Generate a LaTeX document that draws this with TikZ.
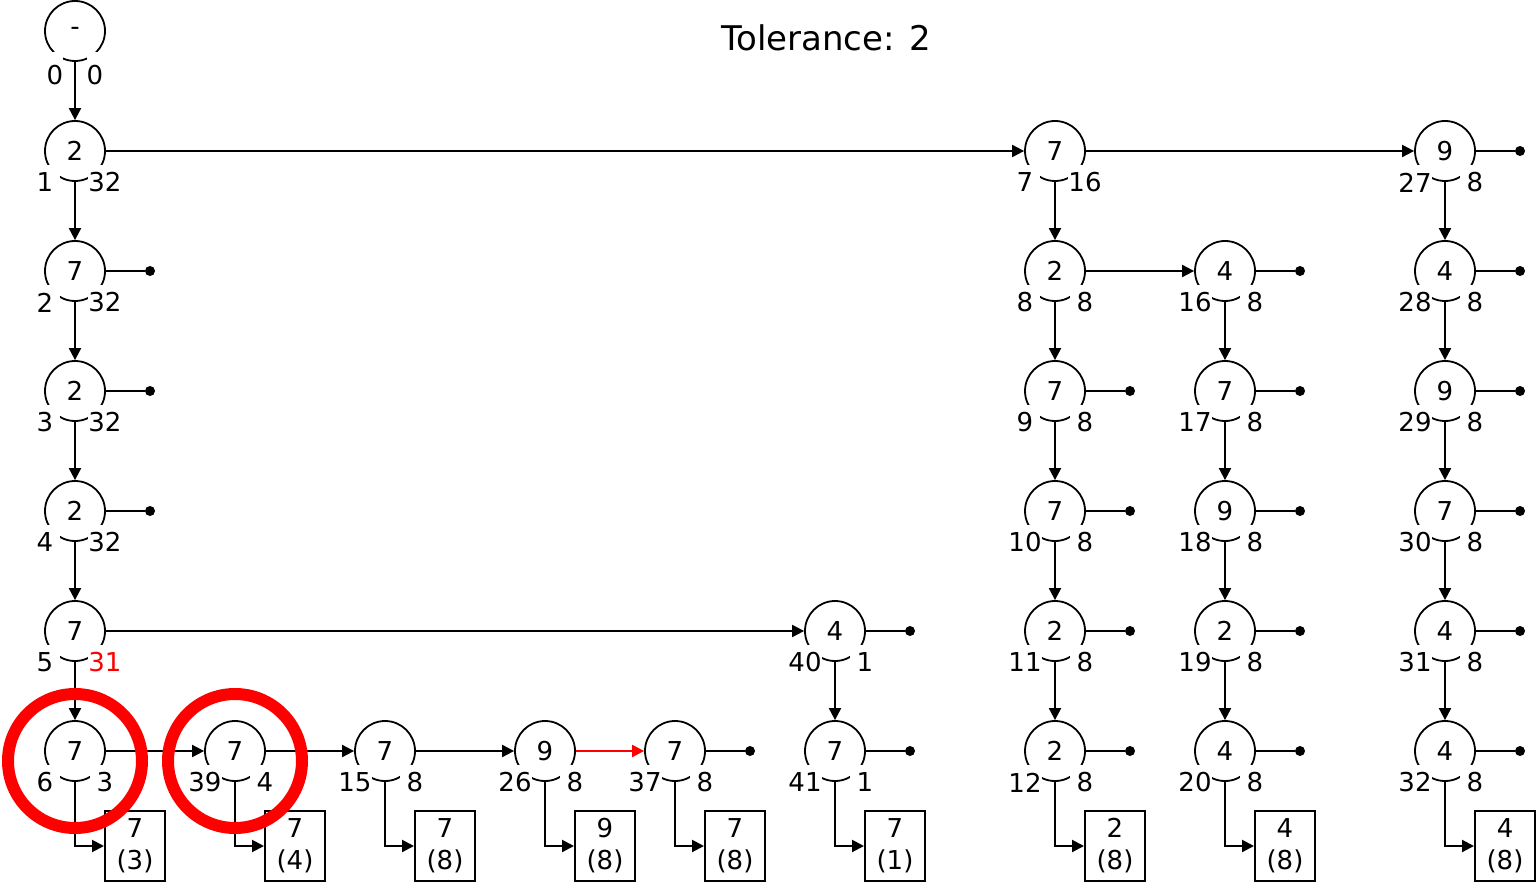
\documentclass[tikz,border=0pt]{standalone}
\usepackage{fontspec}
\setmainfont{DejaVu Sans}
\usetikzlibrary{arrows.meta}

% state circle with its two counters below it
\newcommand\stnode[7][]{%
  \node[st] (#2) at (#3,#4) {#5};
  \node[lab] (#2l) at (#3-30,#4+31.5) {#6};
  \node[lab,#1] (#2r) at (#3+30,#4+31.5) {#7};
}
% open end of a state
\newcommand\stub[3]{%
  \node[dot] (#1d) at (#2+75,#3) {};
  \draw[plain] (#1) -- (#1d);
}
% result box hanging off a state
\newcommand\result[4]{%
  \node[res] (#1b) at (#2+60,846) {#3\\(#4)};
  \draw[link] (#1.south) |- (#1b.west);
}

\begin{document}
\begin{tikzpicture}[x=1pt,y=-1pt,
  every node/.style={font=\fontsize{26}{30}\selectfont},
  st/.style={circle,draw,line width=1.8pt,minimum size=60pt,inner sep=0pt},
  lab/.style={fill=white,inner sep=0pt,minimum width=30pt,minimum height=35pt},
  labtop/.style={fill=white,inner sep=0pt,minimum width=14pt,minimum height=46pt},
  res/.style={draw,line width=2pt,minimum width=60pt,minimum height=70pt,
    inner sep=0pt,align=center,font=\fontsize{26}{32}\selectfont},
  link/.style={line width=2pt,-{Triangle[length=12pt,width=12pt]}},
  hot/.style={link,draw=red},
  plain/.style={line width=2pt},
  dot/.style={circle,fill,inner sep=0pt,minimum size=10pt},
  ring/.style={circle,draw=red,line width=12pt,minimum size=134pt,inner sep=0pt}]
\useasboundingbox (0,0) rectangle (1536,882);

\node (title) at (826,38) {\fontsize{34}{40}\selectfont Tolerance: 2};

% root
\node[st] (n0) at (75,31) {-};
\node[labtop] (n0l) at (55,75) {0};
\node[labtop] (n0r) at (95,75) {0};

% first column
\stnode{n1}{75}{151}{2}{1}{32}
\stnode{n2}{75}{271}{7}{2}{32}
\stnode{n3}{75}{391}{2}{3}{32}
\stnode{n4}{75}{511}{2}{4}{32}
\stnode[text=red]{n5}{75}{631}{7}{5}{31}
\stnode{n6}{75}{751}{7}{6}{3}

% bottom row
\stnode{n39}{235}{751}{7}{39}{4}
\stnode{n15}{385}{751}{7}{15}{8}
\stnode{n26}{545}{751}{9}{26}{8}
\stnode{n37}{675}{751}{7}{37}{8}
\stnode{n40}{835}{631}{4}{40}{1}
\stnode{n41}{835}{751}{7}{41}{1}

% column of 7
\stnode{m7}{1055}{151}{7}{7}{16}
\stnode{m8}{1055}{271}{2}{8}{8}
\stnode{m9}{1055}{391}{7}{9}{8}
\stnode{m10}{1055}{511}{7}{10}{8}
\stnode{m11}{1055}{631}{2}{11}{8}
\stnode{m12}{1055}{751}{2}{12}{8}

% column of 4
\stnode{k16}{1225}{271}{4}{16}{8}
\stnode{k17}{1225}{391}{7}{17}{8}
\stnode{k18}{1225}{511}{9}{18}{8}
\stnode{k19}{1225}{631}{2}{19}{8}
\stnode{k20}{1225}{751}{4}{20}{8}

% column of 9
\stnode{p27}{1445}{151}{9}{27}{8}
\stnode{p28}{1445}{271}{4}{28}{8}
\stnode{p29}{1445}{391}{9}{29}{8}
\stnode{p30}{1445}{511}{7}{30}{8}
\stnode{p31}{1445}{631}{4}{31}{8}
\stnode{p32}{1445}{751}{4}{32}{8}

% transitions
\draw[link] (n0) -- (n1);
\draw[link] (n1) -- (n2);
\draw[link] (n2) -- (n3);
\draw[link] (n3) -- (n4);
\draw[link] (n4) -- (n5);
\draw[link] (n5) -- (n6);
\draw[link] (n1) -- (m7);
\draw[link] (m7) -- (p27);
\draw[link] (n5) -- (n40);
\draw[link] (n40) -- (n41);
\draw[link] (n6) -- (n39);
\draw[link] (n39) -- (n15);
\draw[link] (n15) -- (n26);
\draw[hot] (n26) -- (n37);
\draw[link] (m7) -- (m8);
\draw[link] (m8) -- (k16);
\draw[link] (m8) -- (m9);
\draw[link] (m9) -- (m10);
\draw[link] (m10) -- (m11);
\draw[link] (m11) -- (m12);
\draw[link] (k16) -- (k17);
\draw[link] (k17) -- (k18);
\draw[link] (k18) -- (k19);
\draw[link] (k19) -- (k20);
\draw[link] (p27) -- (p28);
\draw[link] (p28) -- (p29);
\draw[link] (p29) -- (p30);
\draw[link] (p30) -- (p31);
\draw[link] (p31) -- (p32);

% open ends
\stub{n2}{75}{271}
\stub{n3}{75}{391}
\stub{n4}{75}{511}
\stub{n37}{675}{751}
\stub{n40}{835}{631}
\stub{n41}{835}{751}
\stub{m9}{1055}{391}
\stub{m10}{1055}{511}
\stub{m11}{1055}{631}
\stub{m12}{1055}{751}
\stub{k16}{1225}{271}
\stub{k17}{1225}{391}
\stub{k18}{1225}{511}
\stub{k19}{1225}{631}
\stub{k20}{1225}{751}
\stub{p27}{1445}{151}
\stub{p28}{1445}{271}
\stub{p29}{1445}{391}
\stub{p30}{1445}{511}
\stub{p31}{1445}{631}
\stub{p32}{1445}{751}

% results
\result{n6}{75}{7}{3}
\result{n39}{235}{7}{4}
\result{n15}{385}{7}{8}
\result{n26}{545}{9}{8}
\result{n37}{675}{7}{8}
\result{n41}{835}{7}{1}
\result{m12}{1055}{2}{8}
\result{k20}{1225}{4}{8}
\result{p32}{1445}{4}{8}

% highlights
\node[ring] (hl1) at (75,761) {};
\node[ring] (hl2) at (235,761) {};
\end{tikzpicture}
\end{document}
